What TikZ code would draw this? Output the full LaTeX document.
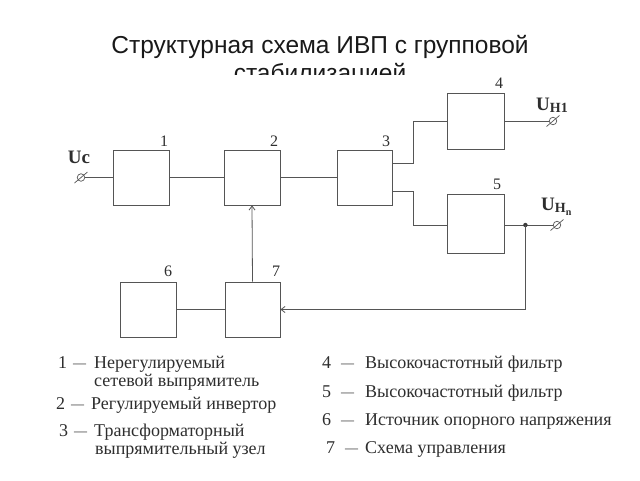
\documentclass[tikz,border=0pt]{standalone}
\usepackage{fontspec}
\setmainfont{Liberation Serif}
\newfontfamily\titlefont{Liberation Sans}
\usetikzlibrary{arrows.meta}
\definecolor{linec}{HTML}{555555}
\definecolor{txt}{HTML}{2E2E2E}
\newcommand{\legdash}{\raisebox{1pt}{\fontsize{13}{13}\selectfont —}}
\begin{document}
\begin{tikzpicture}[x=1pt,y=1pt,
  line/.style={draw=linec, line width=0.8pt},
  box/.style={line, rectangle, inner sep=0pt},
  term/.style={circle, draw=linec, line width=0.7pt, minimum size=7.5pt, inner sep=0pt},
  blabel/.style={anchor=base east, inner sep=0pt, font=\fontsize{16}{16}\selectfont, text=txt},
  ulabel/.style={inner sep=0pt, font=\fontsize{19}{19}\selectfont\bfseries, text=txt},
  legnum/.style={anchor=base west, inner sep=0pt, font=\fontsize{18}{18}\selectfont, text=txt},
  leg/.style={anchor=base west, inner sep=0pt, font=\fontsize{18}{18}\selectfont, text=txt},
  arr/.style={-{Straight Barb[length=4pt,width=6pt]}}
]
\useasboundingbox[fill=white] (0,0) rectangle (640,-480);

% title
\node[anchor=base, inner sep=0pt, font=\titlefont\fontsize{24.5}{24.5}\selectfont, text=black!90] (title) at (320,-53) {Структурная схема ИВП с групповой};
\begin{scope}
\clip (0,0) rectangle (640,-74.5);
\node[anchor=base, inner sep=0pt, font=\titlefont\fontsize{24.5}{24.5}\selectfont, text=black!90] (title2) at (320,-81) {стабилизацией};
\end{scope}

% boxes
\node[box, minimum width=56pt, minimum height=55pt] (b1) at (141,-177.5) {};
\node[box, minimum width=56pt, minimum height=55pt] (b2) at (252,-177.5) {};
\node[box, minimum width=55pt, minimum height=55pt] (b3) at (364.5,-177.5) {};
\node[box, minimum width=57pt, minimum height=56pt] (b4) at (475.5,-121) {};
\node[box, minimum width=57pt, minimum height=59pt] (b5) at (475.5,-223.5) {};
\node[box, minimum width=56pt, minimum height=55pt] (b6) at (148,-309.5) {};
\node[box, minimum width=55pt, minimum height=55pt] (b7) at (252.5,-309.5) {};

% box numbers
\node[blabel] (n1) at ([xshift=-1pt,yshift=3pt]b1.north east) {1};
\node[blabel] (n2) at ([xshift=-2pt,yshift=3pt]b2.north east) {2};
\node[blabel] (n3) at ([xshift=-2pt,yshift=3pt]b3.north east) {3};
\node[blabel] (n4) at ([xshift=-1pt,yshift=4pt]b4.north east) {4};
\node[blabel] (n5) at ([xshift=-3pt,yshift=4pt]b5.north east) {5};
\node[blabel] (n6) at ([xshift=-4pt,yshift=5pt]b6.north east) {6};
\node[blabel] (n7) at ([xshift=0pt,yshift=5pt]b7.north east) {7};

% terminals
\node[term] (t1) at (81,-177.5) {};
\node[term] (t2) at (553,-121) {};
\node[term] (t3) at (557,-225) {};
\foreach \t in {t1,t2,t3}{
  \draw[linec, line width=0.7pt] (\t.center) +(-6.5,-5.5) -- +(6.5,5.5);
}

% terminal labels
\node[ulabel] (uc) at (79,-157) {Uc};
\node[ulabel, anchor=base west] (uh1) at (536,-110) {U\raisebox{-2pt}{\fontsize{14}{14}\selectfont Н1}};
\node[ulabel, anchor=base west] (uhn) at (541,-210) {U\raisebox{-2.5pt}{\fontsize{14}{14}\selectfont Н\raisebox{-2.5pt}{\fontsize{10}{10}\selectfont n}}};

% connectors
\draw[line] (t1) -- (b1.west);
\draw[line] (b1.east) -- (b2.west);
\draw[line] (b2.east) -- (b3.west);
\coordinate (s1) at ([yshift=14.5pt]b3.east);
\coordinate (s2) at ([yshift=-13.5pt]b3.east);
\draw[line] (s1) -- ++(21,0) |- (b4.west);
\draw[line] (s2) -- ++(21,0) |- ([yshift=-1.5pt]b5.west);
\draw[line] (b4.east) -- (t2);
\draw[line] ([yshift=-1.5pt]b5.east) -- (t3);
\coordinate (dot) at ([xshift=21pt,yshift=-1.5pt]b5.east);
\fill[linec!70!black] (dot) circle (2.2pt);
\draw[line, arr] (dot) |- (b7.east);
\draw[line] (b6.east) -- (b7.west);
\draw[line, arr] (b7.north) -- (b2.south);

% legend left
\node[legnum] (k1) at (58,-368) {1\hspace{6pt}\legdash};
\node[leg] (d1a) at (94,-368) {Нерегулируемый};
\node[leg] (d1b) at (94,-386) {сетевой выпрямитель};
\node[legnum] (k2) at (56,-409) {2\hspace{6pt}\legdash};
\node[leg] (d2) at (91,-409) {Регулируемый инвертор};
\node[legnum] (k3) at (59,-436) {3\hspace{6pt}\legdash};
\node[leg] (d3a) at (94,-436) {Трансформаторный};
\node[leg] (d3b) at (95,-454) {выпрямительный узел};

% legend right
\node[legnum] (k4) at (322,-368) {4\hspace{10pt}\legdash};
\node[leg] (d4) at (365,-368) {Высокочастотный фильтр};
\node[legnum] (k5) at (322,-397) {5\hspace{10pt}\legdash};
\node[leg] (d5) at (365,-397) {Высокочастотный фильтр};
\node[legnum] (k6) at (322,-425) {6\hspace{10pt}\legdash};
\node[leg] (d6) at (365,-425) {Источник опорного напряжения};
\node[legnum] (k7) at (326,-453) {7\hspace{10pt}\legdash};
\node[leg] (d7) at (365,-453) {Схема управления};
\end{tikzpicture}
\end{document}
